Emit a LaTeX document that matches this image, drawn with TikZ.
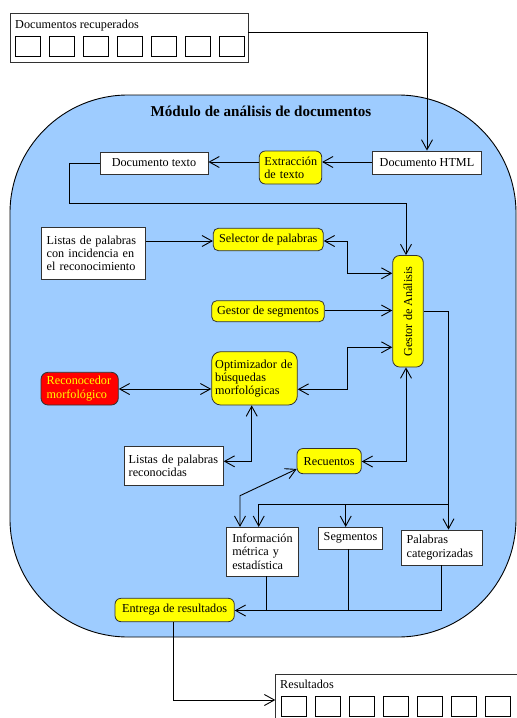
\documentclass[tikz,border=0pt]{standalone}
\usepackage{fontspec}
\setmainfont{Liberation Serif}
\usetikzlibrary{arrows.meta}
\definecolor{modblue}{RGB}{158,204,255}
\definecolor{boxyellow}{RGB}{255,255,0}
\definecolor{boxred}{RGB}{255,0,0}
\definecolor{edgegray}{RGB}{50,50,50}
\newcommand\lne[1]{\mbox{#1}}
\begin{document}
\begin{tikzpicture}[x=1pt,y=-1pt,
  every node/.style={font=\fontsize{12.2}{13.2}\selectfont, text=black},
  wbox/.style={draw=edgegray, fill=white, line width=0.8pt, inner sep=0pt},
  ybox/.style={draw=edgegray, fill=boxyellow, rounded corners=6pt, line width=0.8pt, inner sep=0pt},
  rbox/.style={draw=edgegray, fill=boxred, text=boxyellow, rounded corners=7pt, line width=0.8pt, inner sep=0pt},
  sq/.style={draw=black, line width=0.8pt, minimum width=25.4pt, minimum height=20pt, inner sep=0pt},
  conn/.style={line width=0.9pt, draw=black},
  arr/.style={conn, -{Straight Barb[length=10pt,width=11pt]}},
  barr/.style={conn, {Straight Barb[length=10pt,width=11pt]}-{Straight Barb[length=10pt,width=11pt]}},
]
\useasboundingbox (0,0) rectangle (517,718);
\clip (0,0) rectangle (517,718);

% module background
\node[draw=black, fill=modblue, line width=0.9pt, rounded corners=118pt,
      minimum width=506pt, minimum height=542pt, inner sep=0pt] (module) at (263,366) {};
\node[font=\fontsize{15.1}{16}\selectfont\bfseries] (title) at (261,111.5) {Módulo de análisis de documentos};

% documentos recuperados
\node[wbox, minimum width=238pt, minimum height=49pt] (docrec) at (129,37.5) {};
\node[anchor=west, inner sep=0pt] (docrectxt) at (15,25.5) {Documentos recuperados};
\foreach \i in {0,...,6} {
  \node[sq] (dq\i) at (28+34*\i,46) {};
}

% resultados
\node[wbox, minimum width=254pt, minimum height=56pt] (resbox) at (402.7,702) {};
\node[anchor=west, inner sep=0pt] (restxt) at (280,684) {Resultados};
\foreach \i in {0,...,6} {
  \node[sq, minimum width=25.7pt] (rq\i) at (293.85+34*\i,706) {};
}

% nodes
\node[wbox, minimum width=109.4pt, minimum height=23pt] (html) at (427,162.5) {Documento HTML};
\node[ybox, minimum width=62.4pt, minimum height=33pt, inner xsep=5pt, text width=52.4pt, align=left] (extr) at (290.5,167.5) {\lne{Extracción}\\\lne{de texto}};
\node[wbox, minimum width=108pt, minimum height=22pt] (doctxt) at (154,163) {Documento texto};
\node[ybox, minimum width=30.6pt, minimum height=111.5pt, rounded corners=7pt] (gestor) at (408,311.25) {};
\node[rotate=90, inner sep=0pt] (gestortxt) at (408,311.5) {Gestor de Análisis};
\node[wbox, minimum width=104.7pt, minimum height=51.3pt, inner xsep=5.7pt, text width=93.3pt, align=left] (listas1) at (93.35,253.35) {\lne{Listas de palabras}\\\lne{con incidencia en}\\\lne{el reconocimiento}};
\node[ybox, minimum width=110pt, minimum height=22.4pt, rounded corners=5pt] (selector) at (268.3,239.5) {Selector de palabras};
\node[ybox, minimum width=112.6pt, minimum height=21pt, rounded corners=5pt] (gseg) at (268,311.2) {Gestor de segmentos};
\node[ybox, minimum width=85.6pt, minimum height=53.3pt, rounded corners=9pt, inner xsep=3.5pt, text width=78.6pt, align=left] (optim) at (254.5,378.35) {\lne{Optimizador de}\\\lne{búsquedas}\\\lne{morfológicas}};
\node[rbox, minimum width=77.3pt, minimum height=32.7pt, inner xsep=5.7pt, text width=65.9pt, align=left] (recon) at (79.65,388.65) {\lne{Reconocedor}\\\lne{morfológico}};
\node[wbox, minimum width=99.3pt, minimum height=38.3pt, inner xsep=4.7pt, text width=89.9pt, align=left] (listas2) at (173.65,465.85) {\lne{Listas de palabras}\\\lne{reconocidas}};
\node[ybox, minimum width=64.3pt, minimum height=25.2pt] (recu) at (329.15,461.1) {Recuentos};
\node[wbox, minimum width=72.3pt, minimum height=48.7pt, inner xsep=6.3pt, text width=59.7pt, align=left] (info) at (262.15,551.65) {\lne{Información}\\\lne{métrica y}\\\lne{estadística}};
\node[wbox, minimum width=64.4pt, minimum height=21.7pt] (seg) at (350.5,538.15) {Segmentos};
\node[wbox, minimum width=81pt, minimum height=35pt, inner xsep=5pt, text width=71pt, align=left] (palabras) at (442.2,547.5) {\lne{Palabras}\\\lne{categorizadas}};
\node[ybox, minimum width=119.3pt, minimum height=23.4pt] (entrega) at (174.65,610) {Entrega de resultados};

% helper coordinates
\coordinate (c1) at (427,32);
\coordinate (c2) at (69.3,203);
\coordinate (c3) at (406,203);
\coordinate (c4) at (347.3,241);
\coordinate (c5) at (347.3,273.3);
\coordinate (c6) at (347.3,389.3);
\coordinate (c7) at (347.3,347.3);
\coordinate (c8) at (251.7,461.3);
\coordinate (c9) at (406,461.5);
\coordinate (c10) at (448.5,311.5);
\coordinate (c11) at (448.5,504);
\coordinate (c12) at (258.7,504);
\coordinate (c13) at (345.7,504);
\coordinate (c14) at (240,495.7);
\coordinate (c15) at (441.7,610.5);
\coordinate (c16) at (173.3,700);

% connectors
\draw[arr] ([yshift=5.5pt]docrec.east) -- (c1) -- (c1 |- html.north);
\draw[arr] (html.west |- 0,162) -- (extr.east |- 0,162);
\draw[arr] (extr.west |- 0,162) -- (doctxt.east |- 0,162);
\draw[arr] (doctxt.west) -- (c2 |- doctxt.west) -- (c2) -- (c3) -- (c3 |- gestor.north);
\draw[arr] (listas1.east |- 0,241) -- (selector.west |- 0,241);
\draw[barr] (selector.east |- c4) -- (c4) -- (c5) -- (gestor.west |- c5);
\draw[arr] (gseg.east |- 0,310.5) -- (gestor.west |- 0,310.5);
\draw[barr] (optim.east |- c6) -- (c6) -- (c7) -- (gestor.west |- c7);
\draw[barr] (recon.east |- 0,389) -- (optim.west |- 0,389);
\draw[barr] (listas2.east |- c8) -- (c8) -- (c8 |- optim.south);
\draw[barr] (c3 |- gestor.south) -- (c9) -- (recu.east |- c9);
\draw[arr] (gestor.east |- c10) -- (c10) -- (c10 |- palabras.north);
\draw[arr] (c11) -- (c12) -- (c12 |- info.north);
\draw[arr] (c13) -- (c13 |- seg.north);
\draw[barr] (296.7,469) -- (c14) -- (c14 |- info.north);
\draw[conn] (266,576) -- (266,610.5);
\draw[conn] (348.3,549) -- (348.3,610.5);
\draw[arr] (c15 |- palabras.south) -- (c15) -- (entrega.east |- c15);
\draw[arr] (c16 |- entrega.south) -- (c16) -- (resbox.west |- c16);
\end{tikzpicture}
\end{document}
